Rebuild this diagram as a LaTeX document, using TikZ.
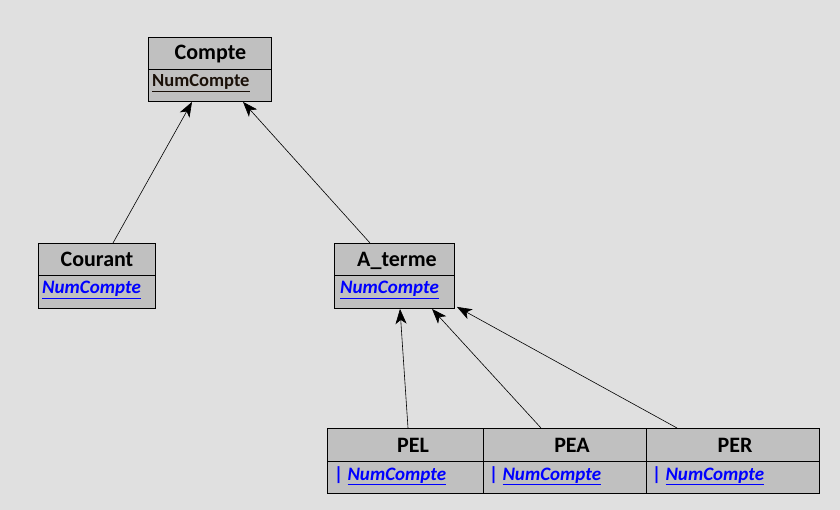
\documentclass[tikz,border=0pt]{standalone}
\usepackage{fontspec}
\setmainfont{Carlito}
\usetikzlibrary{arrows.meta,calc}
\definecolor{bgc}{HTML}{E0E0E0}
\definecolor{boxfill}{HTML}{C0C0C0}
\definecolor{attrc}{HTML}{0000FF}
\definecolor{keyc}{HTML}{1A1008}
\begin{document}
\begin{tikzpicture}[x=1pt,y=-1pt,
  box/.style={draw=black, fill=boxfill, line width=0.9pt, anchor=north west, inner sep=0pt, minimum height=65pt},
  ttl/.style={font=\bfseries\fontsize{22}{24}\selectfont, inner sep=0pt, text=black, anchor=base},
  attr/.style={font=\bfseries\itshape\fontsize{19}{21}\selectfont, text=attrc, inner sep=0pt, anchor=base west},
  keyattr/.style={font=\bfseries\fontsize{18.5}{21}\selectfont, text=keyc, inner sep=0pt, anchor=base west},
  div/.style={line width=0.7pt, draw=black},
  arr/.style={line width=0.6pt, -{Stealth[length=15pt,width=11pt,inset=4pt]}}]
\fill[bgc] (0,0) rectangle (840,510);
\useasboundingbox (0,0) rectangle (840,510);

% Compte
\node[box, minimum width=123pt, minimum height=64pt] (compte) at (148,37) {};
\draw[div] ($(compte.north west)+(0,32)$) -- ($(compte.north east)+(0,32)$);
\node[ttl] (compteT) at (210.5,60) {Compte};
\node[keyattr] (compteA) at (152,87) {\underline{NumCompte}};

% Courant
\node[box, minimum width=117pt] (courant) at (38,243) {};
\draw[div] ($(courant.north west)+(0,32)$) -- ($(courant.north east)+(0,32)$);
\node[ttl] (courantT) at (97,267) {Courant};
\node[attr] (courantA) at (42,294) {\underline{NumCompte}};

% A_terme
\node[box, minimum width=120pt] (aterme) at (334,243) {};
\draw[div] ($(aterme.north west)+(0,32)$) -- ($(aterme.north east)+(0,32)$);
\node[ttl] (atermeT) at (397,267) {A\_terme};
\node[attr] (atermeA) at (340,294) {\underline{NumCompte}};

% PEL, PEA, PER
\node[box, minimum width=156pt] (pel) at (327,428) {};
\node[box, minimum width=163pt] (pea) at (483,428) {};
\node[box, minimum width=173pt] (per) at (646,428) {};
\draw[div] ($(pel.north west)+(0,33)$) -- ($(per.north east)+(0,33)$);
\node[ttl] (pelT) at (413,452) {PEL};
\node[ttl] (peaT) at (572,452) {PEA};
\node[ttl] (perT) at (735,452) {PER};
\node[attr] (pelA) at (334,480) {{\upshape|} \underline{NumCompte}};
\node[attr] (peaA) at (489,480) {{\upshape|} \underline{NumCompte}};
\node[attr] (perA) at (652,480) {{\upshape|} \underline{NumCompte}};

% connectors
\draw[arr] ($(courant.north west)+(75,0)$) -- ($(compte.south west)+(44,0)$);
\draw[arr] ($(aterme.north west)+(36,0)$) -- ($(compte.south west)+(95,0)$);
\draw[arr] ($(pel.north west)+(81,0)$) -- ($(aterme.south west)+(66,0)$);
\draw[arr] ($(pea.north west)+(58,0)$) -- ($(aterme.south west)+(98,0)$);
\draw[arr] ($(per.north west)+(31,0)$) -- ($(aterme.south east)+(2,-2)$);
\end{tikzpicture}
\end{document}
